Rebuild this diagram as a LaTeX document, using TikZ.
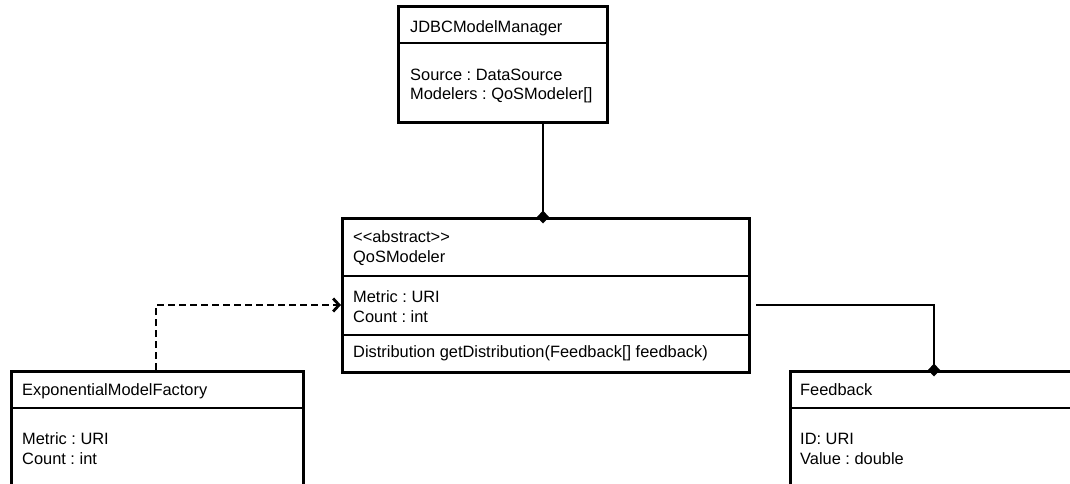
\documentclass[tikz,border=0pt]{standalone}
\usepackage{fontspec}
\setmainfont{Liberation Sans}
\usetikzlibrary{arrows.meta}
\frenchspacing
\begin{document}
\begin{tikzpicture}[x=1pt,y=-1pt,
  cls/.style={draw, line width=2.8pt, rectangle, anchor=north west, inner sep=0pt},
  sep/.style={line width=2.8pt},
  txt/.style={anchor=base west, inner sep=0pt, font=\fontsize{16.4}{19}\selectfont},
  conn/.style={line width=2.8pt},
  comp/.style={conn, -{Diamond[length=13pt,width=12pt]}},
  dep/.style={conn, dash pattern=on 7pt off 4pt, -{Straight Barb[length=6pt,width=13pt]}}]
\clip (0,0) rectangle (1070,484);

% class boxes
\node[cls, minimum width=209pt, minimum height=116pt] (jdbc) at (397,5) {};
\node[cls, minimum width=407pt, minimum height=154pt] (qos)  at (341,217) {};
\node[cls, minimum width=292pt, minimum height=140pt] (emf)  at (10,370) {};
\node[cls, minimum width=300pt, minimum height=140pt] (fb)   at (789,370) {};

% compartment dividers
\coordinate (h1) at (0,43);
\coordinate (h2) at (0,276);
\coordinate (h3) at (0,335);
\coordinate (h4) at (0,408);
\draw[sep] (jdbc.west |- h1) -- (jdbc.east |- h1);
\draw[sep] (qos.west |- h2) -- (qos.east |- h2);
\draw[sep] (qos.west |- h3) -- (qos.east |- h3);
\draw[sep] (emf.west |- h4) -- (emf.east |- h4);
\draw[sep] (fb.west |- h4) -- (fb.east |- h4);

% JDBCModelManager
\node[txt] (jdbcname) at (410,33) {JDBCModelManager};
\node[txt] (jdbca1) at (410,81) {Source : DataSource};
\node[txt] (jdbca2) at (410,100) {Modelers : QoSModeler[]};

% QoSModeler
\node[txt] (qosst) at (353,242) {{<}{<}abstract{>}{>}};
\node[txt] (qosname) at (353,262) {QoSModeler};
\node[txt] (qosa1) at (353,302) {Metric : URI};
\node[txt] (qosa2) at (353,322) {Count : int};
\node[txt] (qosop) at (353,357) {Distribution getDistribution(Feedback[] feedback)};

% ExponentialModelFactory
\node[txt] (emfname) at (22,395) {ExponentialModelFactory};
\node[txt] (emfa1) at (22,444) {Metric : URI};
\node[txt] (emfa2) at (22,464) {Count : int};

% Feedback
\node[txt] (fbname) at (800,395) {Feedback};
\node[txt] (fba1) at (800,444) {ID: URI};
\node[txt] (fba2) at (800,464) {Value : double};

% connectors
\coordinate (v1) at (543,0);
\coordinate (d1) at (156,305);
\coordinate (f1) at (934,305);
\draw[comp] (jdbc.south -| v1) -- ([yshift=-6.5pt]qos.north -| v1);
\draw[dep] (emf.north -| d1) |- (qos.west |- d1);
\draw[comp] ([xshift=5pt]qos.east |- f1) -| ([yshift=-6.5pt]fb.north -| f1);
\end{tikzpicture}
\end{document}
